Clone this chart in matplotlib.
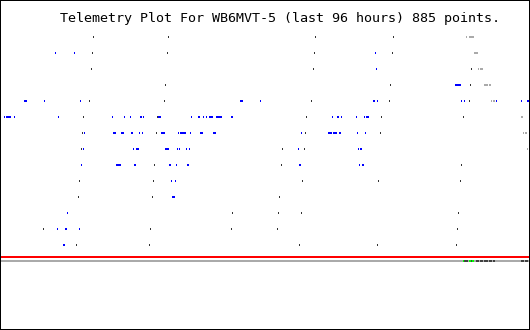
import matplotlib
matplotlib.use("Agg")
import matplotlib.pyplot as plt
from matplotlib.patches import Rectangle

TITLE = "Telemetry Plot For WB6MVT-5 (last 96 hours) 885 points."

# time of each packet in hours (0 = 96 h ago), one list per telemetry channel row
packet_ticks = [
    [16.73, 30.36, 57.09, 71.27],
    [16.55, 30.18, 56.91, 71.09],
    [16.36, 56.73, 85.45],
    [29.82, 70.73, 85.27],
    [16.00, 29.64, 56.36, 70.55, 85.09],
    [14.91, 28.36, 55.45, 69.09, 84.00],
    [14.73, 28.18, 55.27, 68.91],
    [14.55, 51.09, 55.09],
    [27.82, 50.91, 83.64],
    [14.18, 27.64, 54.73, 68.55, 83.45],
    [14.00, 27.45, 50.55],
    [42.00, 50.36, 54.55, 83.09],
    [7.64, 27.09, 41.82, 50.18, 82.91],
    [13.64, 26.91, 54.18, 68.36, 82.73],
]

# (start hour, duration hours) of active values per channel row
active_marks = [
    [],
    [(9.82, .18), (13.27, .18), (68.00, .18)],
    [(68.18, .18)],
    [(82.55, 1.09)],
    [(4.18, .55), (7.82, .18), (14.36, .18), (43.45, .55), (47.09, .18),
     (67.64, .36), (68.36, .18), (83.64, .18), (84.18, .18), (90.00, .18),
     (94.55, .18), (95.64, .36)],
    [(0.55, .18), (0.91, .91), (2.36, .18), (10.36, .18), (20.18, .18),
     (22.36, .18), (23.45, .18), (25.27, .36), (25.82, .18), (28.55, .55),
     (34.55, .18), (35.82, .36), (36.73, .18), (37.27, .18), (37.82, .73),
     (39.09, 1.09), (41.82, .36), (60.18, .18), (61.09, .36), (61.82, .18),
     (64.55, .18), (66.00, .18), (66.36, .55)],
    [(15.09, .18), (20.36, .55), (21.82, .55), (23.64, .36), (25.09, .18),
     (25.64, .18), (29.09, .73), (32.18, .18), (32.55, 1.09), (34.36, .18),
     (36.18, .55), (38.55, .55), (54.55, .18), (59.45, .73), (60.36, .73),
     (61.45, .36), (64.73, .18), (66.18, .18)],
    [(14.91, .18), (24.00, .18), (24.55, .55), (29.82, .73), (32.00, .18),
     (32.36, .18), (33.64, .18), (34.18, .18), (54.00, .18), (64.91, .18),
     (65.27, .36)],
    [(14.55, .18), (20.91, .91), (24.18, .36), (30.55, .36), (31.82, .18),
     (33.82, .36), (54.18, .36), (65.09, .18), (65.64, .36)],
    [(30.91, .18), (31.64, .18)],
    [(31.09, .55)],
    [(12.00, .18)],
    [(10.18, .18), (11.64, .36), (14.18, .18)],
    [(11.27, .36)],
]

# older / duplicate values shown in light grey
stale_marks = [
    [(84.55, .18), (85.09, .91)],
    [(86.00, .73)],
    [(86.73, .18), (87.09, .55)],
    [(87.82, .73), (88.73, .36)],
    [(89.09, .18), (89.45, .36)],
    [(94.55, .36)],
    [(94.91, .18), (95.27, .36)],
    [(95.64, .18)],
]

# timeline bar under the plot
timeline_dark = [(84.18, .73), (85.45, .18), (86.36, .55), (87.09, .55),
                 (87.82, .73), (88.73, .55), (89.45, .36), (94.55, .55),
                 (95.27, .55)]
timeline_green = [(84.00, .18), (85.09, .36), (85.64, .36)]

TIMELINE_ROW = 14
LIMIT_ROW = 13.75

fig = plt.figure(figsize=(5.3, 3.3), dpi=100)
ax = fig.add_axes([1 / 530, 0, 528 / 530, 1])
ax.set_xlim(0, 96)
ax.set_ylim(18.3125, -2.3125)
ax.axis("off")

H = 0.125


def draw(rows, color):
    xs, ws, ys = [], [], []
    for row, marks in enumerate(rows):
        for start, dur in marks:
            xs.append(start)
            ws.append(dur)
            ys.append(row - H / 2)
    ax.bar(xs, H, width=ws, bottom=ys, align="edge", color=color,
           linewidth=0, antialiased=False, zorder=3)


draw([[(t, .18) for t in r] for r in packet_ticks], "#333333")
draw(active_marks, "#0000ff")
draw(stale_marks, "#aaaaaa")

ax.axhline(LIMIT_ROW, color="#ff0000", lw=1.44, antialiased=False,
           solid_capstyle="butt", zorder=2)
ax.axhline(TIMELINE_ROW, color="#aaaaaa", lw=1.44, antialiased=False,
           solid_capstyle="butt", zorder=2)
for segs, color in [(timeline_dark, "#404040"), (timeline_green, "#00ff00")]:
    ax.bar([s for s, d in segs], H, width=[d for s, d in segs],
           bottom=TIMELINE_ROW - H / 2, align="edge", color=color,
           linewidth=0, antialiased=False, zorder=3)

# 1 px frame round the whole image (half of a 2 px stroke falls outside)
fig.add_artist(Rectangle((0, 0), 1, 1, transform=fig.transFigure,
                         fill=False, edgecolor="black", lw=1.44,
                         antialiased=False, zorder=5))

fig.text(60 / 530, 1 - 22 / 330, TITLE, family="DejaVu Sans Mono",
         fontsize=9.6, ha="left", va="baseline", color="black")

fig.savefig("out.png", dpi=100)
